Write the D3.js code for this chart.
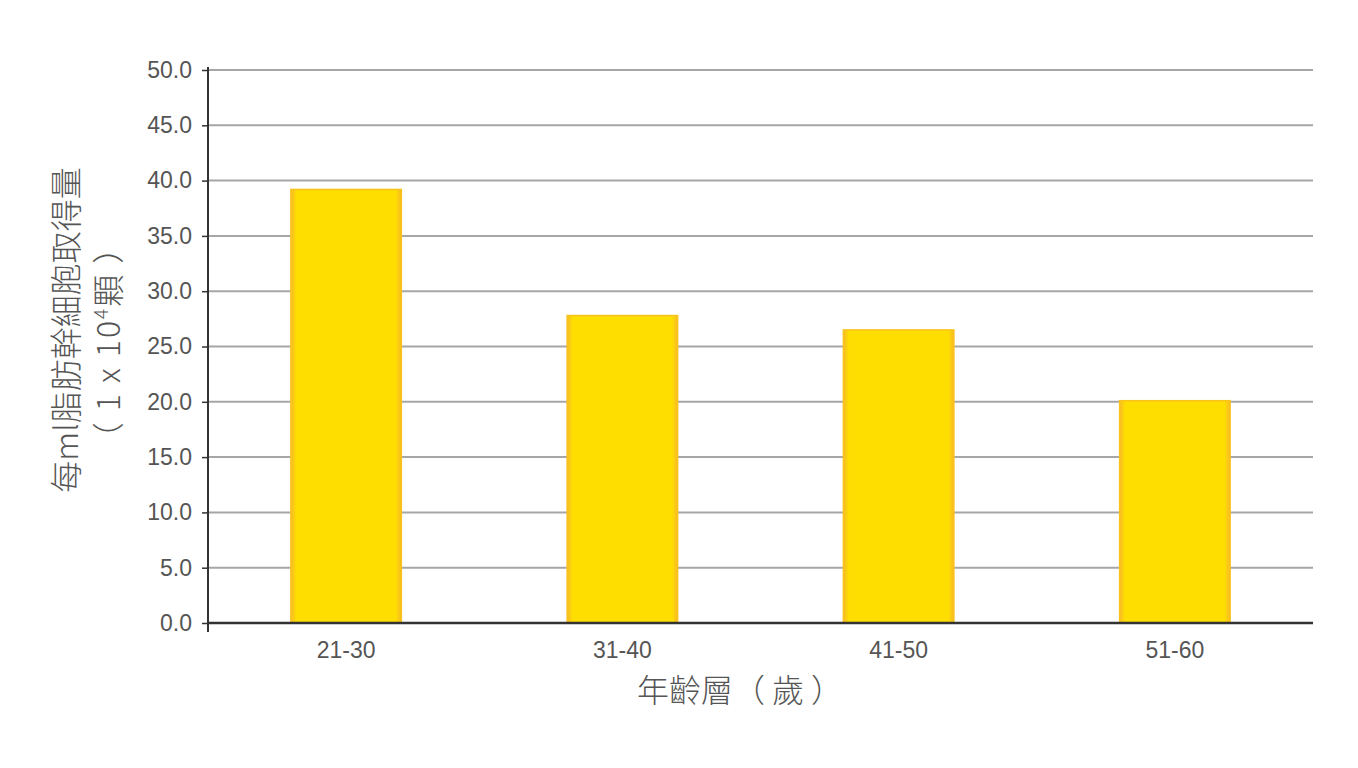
<!DOCTYPE html>
<html lang="zh-Hant">
<head>
  <meta charset="UTF-8" />
  <title>每ml脂肪幹細胞取得量</title>
  <script src="https://d3js.org/d3.v7.min.js"></script>
  <style>
    body { margin: 0; background: #fff; }
    .tick text { font-family: "Liberation Sans", Arial, sans-serif; font-size: 23px; fill: #555; }
    .title { font-family: "Noto Sans CJK TC", "Noto Sans", sans-serif; font-size: 32px; font-weight: 300; fill: #555; }
  </style>
</head>
<body>
  <svg width="1358" height="768"></svg>
  <script>
    const categories = ["21-30", "31-40", "41-50", "51-60"];
    const values = [39.2, 27.8, 26.5, 20.1];
    const yTicks = [0, 5, 10, 15, 20, 25, 30, 35, 40, 45, 50];

    const svg = d3.select("svg");
    const margin = { left: 208, right: 45, top: 70, bottom: 145 };
    const width = 1358 - margin.left - margin.right;
    const height = 768 - margin.top - margin.bottom;

    const defs = svg.append("defs");
    const grad = defs.append("linearGradient").attr("id", "barH");
    grad.append("stop").attr("offset", "0%").attr("stop-color", "#f7b928");
    grad.append("stop").attr("offset", "5%").attr("stop-color", "#fede00");
    grad.append("stop").attr("offset", "95%").attr("stop-color", "#fede00");
    grad.append("stop").attr("offset", "100%").attr("stop-color", "#f7b928");

    const g = svg.append("g").attr("transform", `translate(${margin.left},${margin.top})`);

    const x = d3.scaleBand().domain(categories).range([0, width]).paddingInner(0.6).paddingOuter(0.3);
    const y = d3.scaleLinear().domain([0, 50]).range([height, 0]);

    // gridlines
    g.append("g")
      .selectAll("line")
      .data(yTicks.filter(d => d > 0))
      .join("line")
      .attr("x1", 0).attr("x2", width)
      .attr("y1", d => y(d)).attr("y2", d => y(d))
      .attr("stroke", "#a6a6a6").attr("stroke-width", 2);

    // bars
    g.append("g")
      .selectAll("rect")
      .data(values)
      .join("rect")
      .attr("x", (d, i) => x(categories[i]))
      .attr("y", d => y(d))
      .attr("width", x.bandwidth())
      .attr("height", d => height - y(d))
      .attr("fill", "url(#barH)")
      .attr("stroke", "#f9c21c")
      .attr("stroke-width", 1.5);

    // y axis
    const yAxis = g.append("g")
      .call(d3.axisLeft(y).tickValues(yTicks).tickFormat(d3.format(".1f")).tickSize(6).tickPadding(10));
    yAxis.select(".domain").attr("stroke", "#333").attr("stroke-width", 2).attr("d", `M0,-3V${height + 9}`);
    yAxis.selectAll(".tick line").attr("stroke", "#333").attr("stroke-width", 1.5);

    // x axis
    const xAxis = g.append("g")
      .attr("transform", `translate(0,${height})`)
      .call(d3.axisBottom(x).tickSize(0).tickPadding(19));
    xAxis.select(".domain").attr("stroke", "#333").attr("stroke-width", 2.5).attr("d", `M0,0H${width}`);

    // axis titles
    svg.append("text").attr("class", "title")
      .attr("transform", "translate(78,330) rotate(-90)")
      .attr("text-anchor", "middle")
      .text("每ml脂肪幹細胞取得量");

    const t2 = svg.append("text").attr("class", "title")
      .attr("transform", "translate(120,342) rotate(-90)")
      .attr("text-anchor", "middle")
      .attr("letter-spacing", 2);
    t2.append("tspan").text("（ 1 x 10");
    t2.append("tspan").attr("dy", -12).attr("font-size", 19).text("4");
    t2.append("tspan").attr("dy", 12).text("顆 ）");

    svg.append("text").attr("class", "title")
      .attr("x", 740).attr("y", 702)
      .attr("text-anchor", "middle")
      .text("年齡層（ 歲 ）");
  </script>
</body>
</html>
